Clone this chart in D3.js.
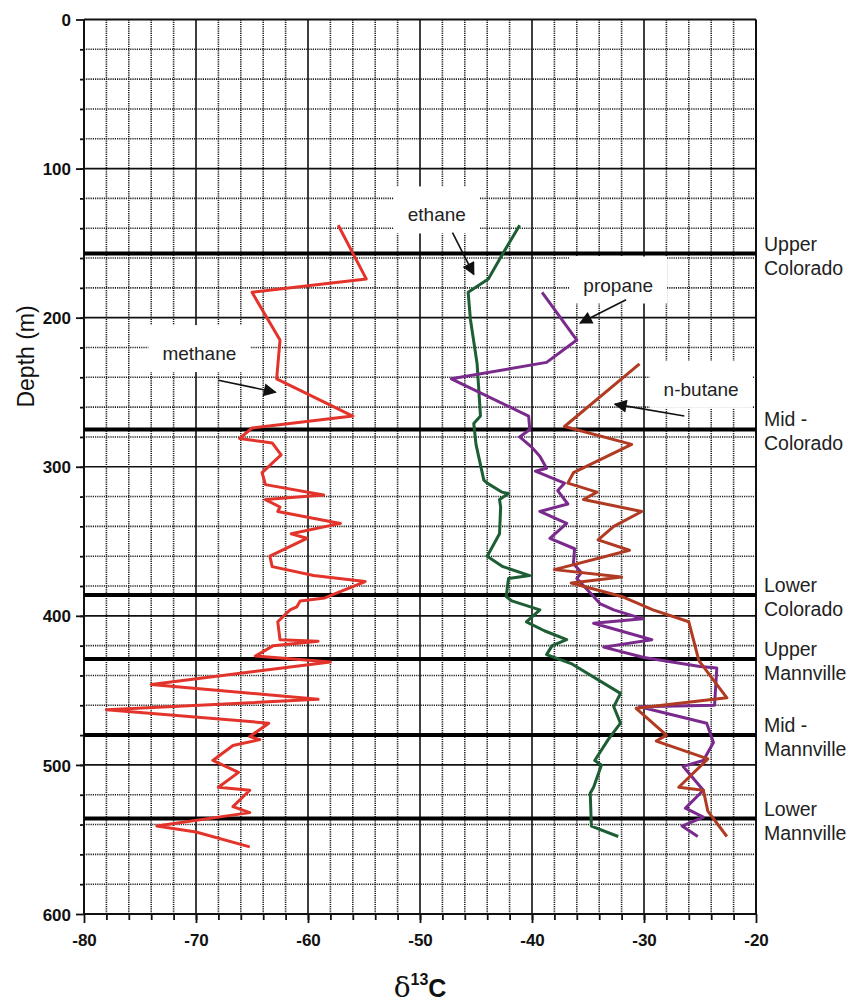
<!DOCTYPE html>
<html>
<head>
<meta charset="utf-8">
<script src="https://cdn.jsdelivr.net/npm/d3@7"></script>
<style>
  body { margin: 0; background: #fff; }
  svg { display: block; font-family: Arial, 'Liberation Sans', sans-serif; }
</style>
</head>
<body>
<div id="chart"></div>
<script>
// delta 13C (permil) vs depth (m)
const methane = [
  [-57.3, 138], [-54.8, 174], [-65.0, 183], [-62.5, 215], [-62.8, 241], [-56.0, 266],
  [-65.0, 274], [-66.1, 281], [-63.2, 284], [-62.4, 292], [-64.1, 304], [-63.8, 312],
  [-58.6, 319], [-63.8, 322], [-62.5, 327], [-62.7, 330], [-57.1, 338], [-61.5, 345],
  [-60.1, 348], [-63.4, 360], [-63.2, 367], [-59.5, 373], [-54.9, 377], [-58.5, 388],
  [-60.7, 390], [-61.0, 394], [-61.6, 396], [-62.7, 404], [-62.5, 416], [-59.1, 417],
  [-63.1, 420], [-64.7, 427], [-58.0, 431], [-74.0, 446], [-59.1, 456], [-78.0, 463],
  [-63.5, 472], [-65.2, 481], [-64.3, 483], [-66.7, 487], [-68.5, 497], [-66.2, 505],
  [-68.0, 515], [-65.2, 517], [-66.7, 528], [-65.2, 532], [-73.5, 541], [-70.0, 545],
  [-65.2, 555]
]
const ethane = [
  [-41.1, 138], [-42.6, 157], [-43.9, 174], [-45.7, 183], [-45.5, 201], [-44.9, 231],
  [-44.6, 266], [-45.2, 271], [-45.0, 285], [-44.3, 309], [-44.0, 311], [-42.7, 317],
  [-42.1, 318], [-42.9, 322], [-42.8, 327], [-42.9, 345], [-44.0, 360], [-42.6, 367],
  [-40.2, 373], [-42.1, 375], [-42.3, 387], [-41.8, 390], [-39.3, 396], [-40.5, 404],
  [-38.9, 410], [-36.9, 416], [-38.2, 420], [-38.7, 426], [-36.5, 432], [-32.1, 452],
  [-32.7, 461], [-32.1, 472], [-33.2, 483], [-34.4, 497], [-33.8, 500], [-34.5, 515],
  [-34.8, 519], [-34.7, 541], [-32.3, 548]
]
const propane = [
  [-39.1, 183], [-36.0, 215], [-38.7, 230], [-47.2, 241], [-40.3, 266], [-40.2, 275],
  [-41.1, 280], [-40.0, 287], [-39.3, 293], [-38.7, 301], [-39.7, 303], [-37.1, 311],
  [-37.7, 316], [-36.8, 325], [-39.3, 330], [-36.9, 338], [-38.4, 348], [-36.2, 355],
  [-36.3, 365], [-35.6, 371], [-36.0, 375], [-34.5, 387], [-33.9, 392], [-32.7, 396],
  [-30.1, 402], [-34.5, 405], [-29.3, 416], [-33.6, 421], [-30.0, 428], [-25.0, 434],
  [-23.5, 435], [-23.7, 460], [-30.4, 461], [-24.4, 472], [-23.8, 485], [-24.7, 497],
  [-26.5, 501], [-24.7, 517], [-26.3, 529], [-24.7, 535], [-26.6, 541], [-25.2, 548]
]
const butane = [
  [-30.4, 231], [-37.1, 273], [-31.1, 285], [-36.3, 304], [-36.8, 311], [-34.2, 317],
  [-35.4, 322], [-30.2, 330], [-32.7, 340], [-34.1, 349], [-31.3, 356], [-38.0, 369],
  [-32.0, 374], [-36.5, 378], [-32.0, 387], [-29.2, 396], [-26.0, 404], [-25.1, 430],
  [-22.6, 455], [-30.7, 462], [-28.0, 480], [-28.9, 484], [-24.3, 496], [-26.9, 515],
  [-24.7, 517], [-24.3, 531], [-22.6, 548]
]

const formationNames = [['Upper', 'Colorado'], ['Mid -', 'Colorado'], ['Lower', 'Colorado'],
  ['Upper', 'Mannville'], ['Mid -', 'Mannville'], ['Lower', 'Mannville']]
const formationDepths = [157, 275, 386, 429, 480, 536]

const xTicks = [-80, -70, -60, -50, -40, -30, -20]
const yTicks = [0, 100, 200, 300, 400, 500, 600]

const seriesNames = ['methane', 'ethane', 'propane', 'n-butane']
const seriesData = [methane, ethane, propane, butane]
const seriesColors = ['#e3342c', '#1d5e35', '#7a2a8c', '#b03b22']

// label text box (centre) and arrow tail / tip, in data units
const labelAt = [[-69.7, 224], [-48.5, 131], [-32.3, 178], [-24.9, 248]]
const arrowFrom = [[-68.0, 242], [-47.1, 143], [-31.6, 188], [-26.4, 266]]
const arrowTo = [[-62.9, 250], [-45.2, 171], [-35.7, 203.6], [-32.6, 258]]

const width = 854
const height = 1003
const margin = {top: 19.5, right: 98, bottom: 89, left: 84}

const svg = d3.select('#chart').append('svg')
    .attr('width', width)
    .attr('height', height)

const x = d3.scaleLinear().domain([-80, -20]).range([margin.left, width - margin.right])
const y = d3.scaleLinear().domain([0, 600]).range([margin.top, height - margin.bottom])

const grid = svg.append('g')

// minor grid (dotted)
grid.selectAll('line.vminor')
    .data(d3.range(-78, -20, 2).filter(d => d % 10 !== 0))
    .enter().append('line')
    .attr('x1', d => x(d)).attr('x2', d => x(d))
    .attr('y1', y(0)).attr('y2', y(600))
    .attr('stroke', '#222').attr('stroke-width', 1.6).attr('stroke-dasharray', '1.2,1')
grid.selectAll('line.hminor')
    .data(d3.range(20, 600, 20).filter(d => d % 100 !== 0))
    .enter().append('line')
    .attr('x1', x(-80)).attr('x2', x(-20))
    .attr('y1', d => y(d)).attr('y2', d => y(d))
    .attr('stroke', '#222').attr('stroke-width', 1.6).attr('stroke-dasharray', '1.2,1')

// white boxes behind the annotation labels
const labelG = svg.append('g')
const boxes = labelG.selectAll('g').data(seriesNames).enter().append('g')

// major grid
grid.selectAll('line.vmajor')
    .data(xTicks)
    .enter().append('line')
    .attr('x1', d => x(d)).attr('x2', d => x(d))
    .attr('y1', y(0)).attr('y2', y(600))
    .attr('stroke', '#111').attr('stroke-width', d => (d === -80 || d === -20) ? 2 : 1.6)
grid.selectAll('line.hmajor')
    .data(yTicks)
    .enter().append('line')
    .attr('x1', x(-80)).attr('x2', x(-20))
    .attr('y1', d => y(d)).attr('y2', d => y(d))
    .attr('stroke', '#111').attr('stroke-width', d => (d === 0 || d === 600) ? 2 : 1.6)

// axes
const xAxis = d3.axisBottom(x).tickValues(xTicks).tickSize(9).tickFormat(d => String(d))
const xMinor = d3.axisBottom(x).tickValues(d3.range(-78, -20, 2)).tickSize(6).tickFormat('')
const yAxis = d3.axisLeft(y).tickValues(yTicks).tickSize(8).tickFormat(d => String(d))
const yMinor = d3.axisLeft(y).tickValues(d3.range(20, 600, 20)).tickSize(4).tickFormat('')

function styleAxis (g) {
    g.select('.domain').remove()
    g.selectAll('line').attr('stroke', '#111').attr('stroke-width', 1.8)
    g.selectAll('text').attr('fill', '#111').attr('font-weight', 'bold')
        .attr('font-size', 17).attr('font-family', 'Arial, Liberation Sans, sans-serif')
}

svg.append('g').attr('transform', `translate(0,${y(600)})`).call(xMinor).call(styleAxis)
svg.append('g').attr('transform', `translate(0,${y(600)})`).call(xAxis).call(styleAxis)
    .selectAll('text').attr('dy', null).attr('y', 32)
svg.append('g').attr('transform', `translate(${x(-80)},0)`).call(yMinor).call(styleAxis)
svg.append('g').attr('transform', `translate(${x(-80)},0)`).call(yAxis).call(styleAxis)
    .selectAll('text').attr('x', -13).attr('dy', '0.36em')

// formation boundaries
const form = svg.append('g')
form.selectAll('line')
    .data(formationDepths)
    .enter().append('line')
    .attr('x1', x(-80)).attr('x2', x(-20))
    .attr('y1', d => y(d)).attr('y2', d => y(d))
    .attr('stroke', '#000').attr('stroke-width', 4)
form.selectAll('text')
    .data(formationNames)
    .enter().append('text')
    .attr('x', x(-20) + 8)
    .attr('y', (d, i) => y(formationDepths[i]))
    .attr('font-size', 19.5)
    .attr('fill', '#222')
    .each(function (d) {
        const t = d3.select(this)
        t.append('tspan').attr('x', x(-20) + 8).attr('dy', -3).text(d[0])
        t.append('tspan').attr('x', x(-20) + 8).attr('dy', 24).text(d[1])
    })

// label boxes + text
boxes.each(function (name, i) {
    const g = d3.select(this)
    const cx = x(labelAt[i][0])
    const cy = y(labelAt[i][1])
    const t = g.append('text')
        .attr('x', cx).attr('y', cy)
        .attr('text-anchor', 'middle')
        .attr('dy', '0.35em')
        .attr('font-size', 19)
        .attr('fill', '#222')
        .text(name)
    const bb = t.node().getBBox()
    g.insert('rect', 'text')
        .attr('x', bb.x - 14).attr('y', bb.y - 18)
        .attr('width', bb.width + 28).attr('height', bb.height + 26)
        .attr('fill', '#fff')
})

// data lines
const line = d3.line().x(d => x(d[0])).y(d => y(d[1]))
svg.append('g').selectAll('path')
    .data(seriesData)
    .enter().append('path')
    .attr('d', line)
    .attr('fill', 'none')
    .attr('stroke', (d, i) => seriesColors[i])
    .attr('stroke-width', 3)
    .attr('stroke-linejoin', 'round')

// arrows
svg.append('defs').append('marker')
    .attr('id', 'head')
    .attr('viewBox', '0 0 10 10')
    .attr('refX', 9).attr('refY', 5)
    .attr('markerWidth', 16).attr('markerHeight', 13)
    .attr('markerUnits', 'userSpaceOnUse')
    .attr('orient', 'auto')
    .append('path').attr('d', 'M0,0 L10,5 L0,10 Z').attr('fill', '#111')

svg.append('g').selectAll('line')
    .data(arrowFrom)
    .enter().append('line')
    .attr('x1', d => x(d[0])).attr('y1', d => y(d[1]))
    .attr('x2', (d, i) => x(arrowTo[i][0])).attr('y2', (d, i) => y(arrowTo[i][1]))
    .attr('stroke', '#111').attr('stroke-width', 1.6)
    .attr('marker-end', 'url(#head)')

// axis titles
svg.append('text')
    .attr('transform', `translate(34,${y(226)}) rotate(-90)`)
    .attr('text-anchor', 'middle')
    .attr('font-size', 23)
    .attr('fill', '#111')
    .text('Depth (m)')

const xt = svg.append('text')
    .attr('x', 420).attr('y', 997)
    .attr('text-anchor', 'middle')
    .attr('fill', '#111')
xt.append('tspan').attr('font-family', 'DejaVu Serif, serif').attr('font-size', 28).text('δ')
xt.append('tspan').attr('font-weight', 'bold').attr('font-size', 16).attr('dy', -12).text('13')
xt.append('tspan').attr('font-weight', 'bold').attr('font-size', 25).attr('dy', 12).text('C')
</script>
</body>
</html>
